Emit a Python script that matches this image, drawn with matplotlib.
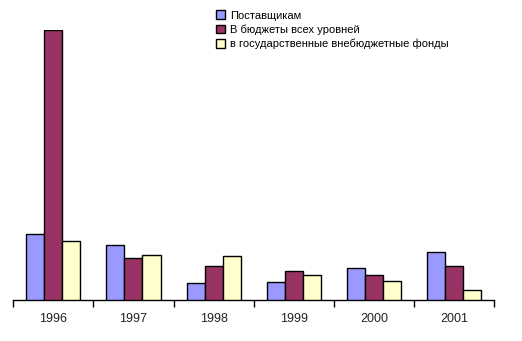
import numpy as np
import matplotlib.pyplot as plt

years = ['1996', '1997', '1998', '1999', '2000', '2001']
suppliers = [66, 55, 17, 18, 32, 48]
budgets = [270, 42, 34, 29, 25, 34]
offbudget = [59, 45, 44, 25, 19, 10]

series = [
    ('Поставщикам', suppliers, '#9999FF'),
    ('В бюджеты всех уровней', budgets, '#993366'),
    ('в государственные внебюджетные фонды', offbudget, '#FFFFCC'),
]

plt.rcParams['font.family'] = ['Liberation Sans', 'DejaVu Sans']

W, H = 522, 341
fig = plt.figure(figsize=(W / 100, H / 100), dpi=100)
ax = fig.add_axes([13.3 / W, (H - 300) / H, (494 - 13.3) / W, 270 / H])

x = np.arange(len(years))
bw = 0.225
for i, (name, vals, col) in enumerate(series):
    ax.bar(x + (i - 1) * bw, vals, bw, color=col, edgecolor='black',
           linewidth=1, label=name, zorder=3)

ax.set_xlim(-0.5, len(years) - 0.5)
ax.set_ylim(0, 270)
ax.set_xticks(x)
ax.set_xticklabels(years, fontsize=9, color='#222222')
ax.tick_params(axis='x', which='major', length=0, pad=9)
ax.set_xticks(np.arange(-0.5, len(years)), minor=True)
ax.tick_params(axis='x', which='minor', length=5, width=1, direction='out')
ax.set_yticks([])
for s in ['top', 'right', 'left']:
    ax.spines[s].set_visible(False)
ax.spines['bottom'].set_linewidth(1)

fig.legend(loc='upper left', bbox_to_anchor=(212 / W, 1 - 6 / H),
           frameon=False, fontsize=8, handlelength=0.8, handleheight=0.8,
           handletextpad=0.4, labelspacing=0.35, borderaxespad=0)

fig.savefig('out.png', dpi=100)
